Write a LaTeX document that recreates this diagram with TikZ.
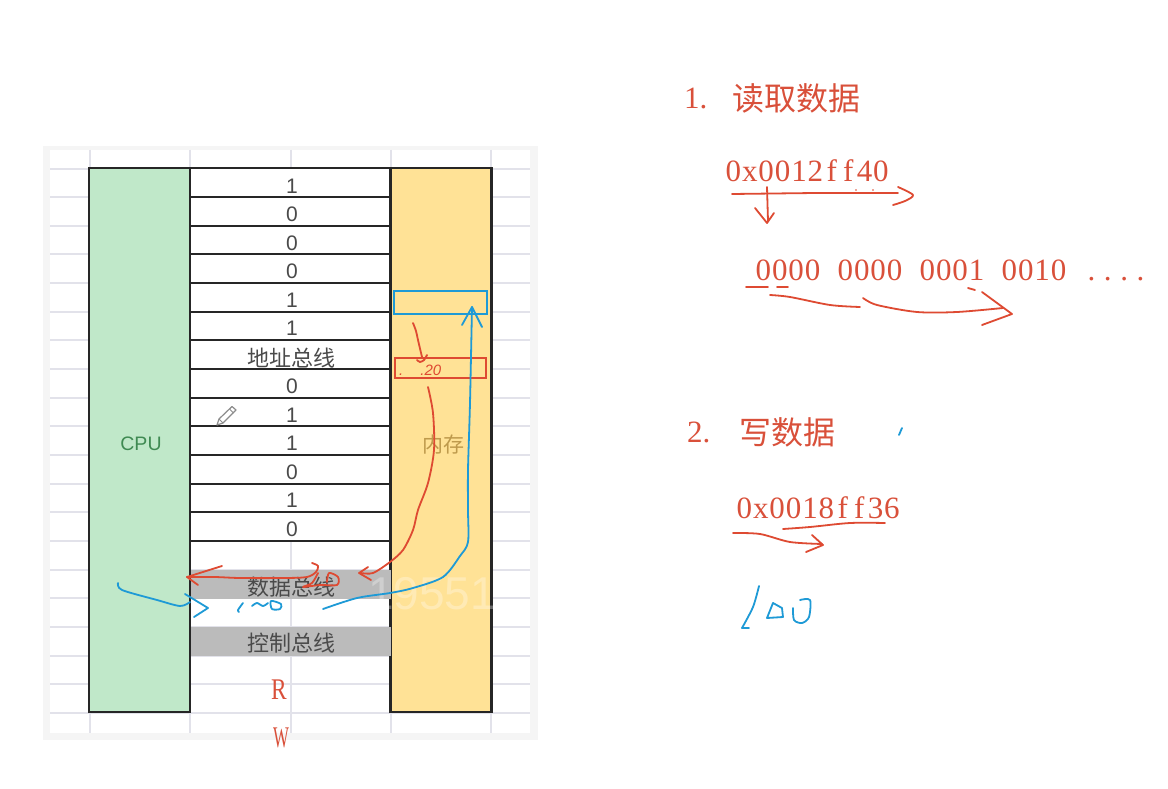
\documentclass[tikz,border=0pt]{standalone}
\usepackage{fontspec}
\setmainfont{Liberation Serif}
\newfontfamily\sansf{Liberation Sans}
\newfontfamily\cjk{Noto Sans CJK SC}
\usetikzlibrary{calc}
\definecolor{redink}{HTML}{DE4A32}
\definecolor{bluink}{HTML}{1E9AD6}
\definecolor{redtxt}{HTML}{D9503A}
\definecolor{gridc}{HTML}{E2E2EA}
\definecolor{cpufill}{HTML}{C0E8C9}
\definecolor{memfill}{HTML}{FFE296}
\definecolor{busgray}{HTML}{BBBBBB}
\definecolor{inkgray}{HTML}{4A4A4A}
\definecolor{cpuink}{HTML}{3F8A52}
\definecolor{memink}{HTML}{BE9A4C}
\newlength\monow
\setlength\monow{16.4pt}
\def\monoloop#1{\ifx#1\relax\else\makebox[\monow][c]{#1}\expandafter\monoloop\fi}
\newcommand\monotext[1]{\monoloop#1\relax}
\tikzset{
  handr/.style={draw=redink,line width=1.8pt,line cap=round,line join=round},
  handb/.style={draw=bluink,line width=1.8pt,line cap=round,line join=round},
  bitlabel/.style={font=\sansf\fontsize{21}{21}\selectfont,text=inkgray,inner sep=0pt},
  buslabel/.style={font=\cjk\fontsize{22}{22}\selectfont,text=inkgray,inner sep=0pt},
  unitbox/.style={draw=black!85,line width=2.2pt,minimum width=101pt,minimum height=544pt,inner sep=0pt},
  busbar/.style={fill=busgray,minimum width=200pt,minimum height=29pt,inner sep=0pt},
  headtxt/.style={font=\cjk\fontsize{32}{32}\selectfont,text=redtxt,inner sep=0pt,anchor=west},
  numtxt/.style={font=\fontsize{31}{32}\selectfont,text=redtxt,inner sep=0pt,anchor=west},
}
\begin{document}
\begin{tikzpicture}[x=1pt,y=-1pt]
\useasboundingbox (0,0) rectangle (1168,789);
\fill[white] (0,0) rectangle (1168,789);
% sheet
\fill[black!4] (43,146) rectangle (538,740);
\fill[white] (50,150) rectangle (530,733);
\foreach \y in {169,197,226,254,283,312,340,369,398,426,455,484,512,541,570,598,627,656,684,713}
  \draw[gridc,line width=1.2pt] (50,\y) -- (530,\y);
\foreach \x in {90,190,291,391,491}
  \draw[gridc,line width=1.2pt] (\x,150) -- (\x,733);
% bit rows
\fill[white] (190,169) rectangle (391,541);
\foreach \y in {168,197,226,254,283,312,340,369,398,426,455,484,512,541}
  \draw[black!85,line width=2pt] (190,\y) -- (391,\y);
% units
\node[unitbox,fill=cpufill] (cpu) at (139.5,440) {};
\node[unitbox,fill=memfill] (mem) at (441,440) {};
\node[font=\sansf\fontsize{19.5}{21}\selectfont,text=cpuink,inner sep=0pt] (cpulabel) at (141,444) {CPU};
\node[font=\cjk\fontsize{21}{21}\selectfont,text=memink,inner sep=0pt] (memlabel) at (443,445) {内存};
% bits
\foreach \n/\y/\b in {a/186/1,b/214/0,c/243/0,d/271/0,e/300/1,f/328/1,g/386/0,h/415/1,i/443/1,j/472/0,k/500/1,l/529/0}
  \node[bitlabel] (bit\n) at (292,\y) {\b};
\node[buslabel] (addrbus) at (291,358) {地址总线};
% buses
\node[busbar] (databar) at (291,584.5) {};
\node[busbar] (ctrlbar) at (291,641.5) {};
\node[buslabel] (databus) at (291,587) {数据总线};
\node[buslabel] (ctrlbus) at (291,643) {控制总线};
% watermark
\node[font=\sansf\fontsize{46}{46}\selectfont,text=white,opacity=.3,inner sep=0pt] (mark) at (432,594) {19551};
% memory cells
\node[draw=bluink,line width=2.4pt,minimum width=93pt,minimum height=23pt,inner sep=0pt] (cellb) at (440.5,302.5) {};
\node[draw=redink,line width=2.4pt,minimum width=91pt,minimum height=20pt,inner sep=0pt] (cellr) at (440.5,368) {};
\node[font=\sansf\itshape\fontsize{15}{15}\selectfont,text=redink,inner sep=0pt,anchor=west] (celltxt) at (399,370) {.\hspace{17pt}.20};
% RW
\node[font=\fontsize{30}{30}\selectfont,text=redtxt,inner sep=0pt] (rlabel) at (279,690) {\scalebox{.78}[1]{R}};
\node[font=\fontsize{30}{30}\selectfont,text=redtxt,inner sep=0pt] (wlabel) at (281,738) {\scalebox{.56}[1]{W}};
% pencil
\draw[black!45,line width=1.2pt,line join=round] (217,425) -- (219,419) -- (232,406.5) -- (236,410) -- (223,423) -- cycle;
\draw[black!45,line width=1pt] (219,419) -- (223,423) (229.5,409) -- (233.5,413);
% freehand red, left
\draw[handr] plot[smooth] coordinates {(413,323) (416,331) (418,340) (422,357)};
\draw[handr] plot[smooth] coordinates {(417,360) (420,362) (424,360) (427,355)};
\draw[handr] plot[smooth] coordinates {(428,387) (433,413) (434,450) (428,483) (418,510) (413,530) (403,550) (390,562) (373,573) (361,573)};
\draw[handr] (368,567) -- (359,573) -- (371,580);
\draw[handr] plot[smooth] coordinates {(187,577) (215,577) (240,578) (285,578) (307,577) (316,572) (318,566) (312,563)};
\draw[handr] plot[smooth] coordinates {(318,573) (312,583) (303,587) (320,585) (337,585) (338,577) (329,573) (327,582)};
\draw[handr] (222,566) -- (187,577) -- (198,585);
% freehand blue, left
\draw[handb] plot[smooth] coordinates {(323,609) (357,598) (390,593) (413,588) (443,577) (460,556) (468,542) (468,510) (468,470) (470,403) (472,307)};
\draw[handb] (462,325) -- (472,307) -- (482,327);
\draw[handb] plot[smooth] coordinates {(118,583) (122,590) (157,600) (180,606) (190,602)};
\draw[handb] (185,594) -- (208,608) -- (194,617);
\draw[handb] plot[smooth] coordinates {(243,603) (238,610) (239,612)};
\draw[handb] plot[smooth] coordinates {(252,606) (257,603) (263,606) (268,603)};
\draw[handb] plot[smooth cycle] coordinates {(271,601) (281,604) (280,609) (272,609)};
% right column
\node[numtxt] (one) at (684,98) {1.};
\node[headtxt] (read) at (732,98) {读取数据};
\node[numtxt] (addr1) at (725,171) {\monotext{0x0012ff40}};
\node[numtxt] (bits) at (755,270) {\monotext{0000~0000~0001~0010~....}};
\node[numtxt] (two) at (687,432) {2.};
\node[headtxt] (write) at (739,432) {写数据};
\node[numtxt] (addr2) at (736,508) {\monotext{0x0018ff36}};
% freehand right
\draw[handr] (732,194) -- (815,193) -- (898,193);
\draw[handr] plot[smooth] coordinates {(898,187) (913,195) (905,201) (893,205)};
\draw[handr] (767,187) -- (768,221);
\draw[handr] (755,208) -- (767,223) -- (774,213);
\fill[redink] (856,190) circle (.8) (873,190) circle (.8);
\draw[handr] (746,287) -- (768,287) (777,287) -- (788,287);
\draw[handr] plot[smooth] coordinates {(770,295) (790,297) (830,305) (860,307)};
\draw[handr] plot[smooth] coordinates {(863,298) (877,305) (917,312) (957,312) (1003,308)};
\draw[handr] (968,288) -- (975,290);
\draw[handr] (982,292) -- (1012,314) -- (982,325);
\draw[handr] plot[smooth] coordinates {(783,529) (810,527) (850,523) (885,523)};
\draw[handr] plot[smooth] coordinates {(733,533) (760,534) (790,542) (822,544)};
\draw[handr] (812,535) -- (823,545) -- (806,552);
\draw[handb] (902,428) -- (899,435);
\draw[handb] plot[smooth] coordinates {(759,586) (753,607) (742,628)};
\draw[handb] (742,628) -- (749,628);
\draw[handb] (773,603) -- (767,618) -- (783,617) -- (782,608) -- cycle;
\draw[handb] plot[smooth] coordinates {(800,600) (810,600) (809,617) (802,623) (794,620) (793,608)};
\end{tikzpicture}
\end{document}
